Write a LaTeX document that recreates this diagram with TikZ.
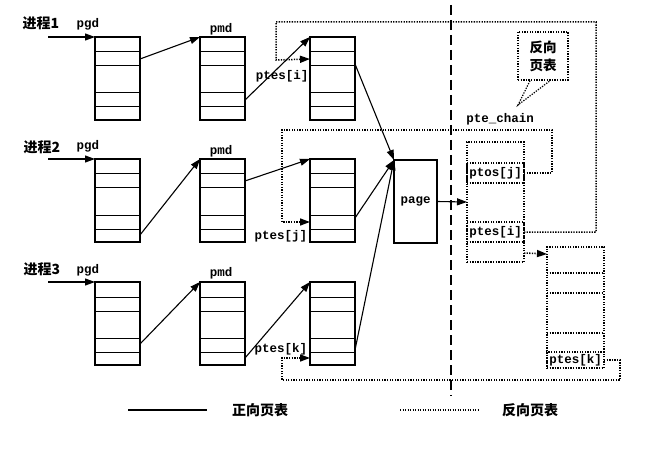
\documentclass[tikz,border=0pt]{standalone}
\usepackage{fontspec}
\setmainfont{Liberation Serif}
\newfontfamily\cjk{Noto Sans CJK SC}
\newfontfamily\code{Liberation Mono}
\usetikzlibrary{arrows.meta,calc}
\newcommand\pgtable[3]{%
  \node[tbl] (#1) at (#2,#3) {};
  \foreach \d in {15,29,56,70}
    \draw[line width=1pt] ([yshift=-\d pt]#1.north west) -- ([yshift=-\d pt]#1.north east);
}
\begin{document}
\begin{tikzpicture}[x=1pt,y=-1pt,
  tbl/.style={draw,line width=1.1pt,minimum width=45pt,minimum height=83pt,anchor=north west,inner sep=0pt,outer sep=0pt},
  dots/.style={line width=1.5pt,dash pattern=on 1.3pt off 1.3pt},
  tip/.style={-{Triangle[length=10pt,width=7pt]}},
  link/.style={line width=1.1pt,tip},
  cjklab/.style={font=\cjk\bfseries\fontsize{14}{16}\selectfont,inner sep=0pt},
  codelab/.style={font=\code\bfseries\fontsize{12.5}{14}\selectfont,inner sep=0pt},
  rbox/.style={draw,dots,minimum width=57pt,anchor=north west,inner sep=0pt,outer sep=0pt},
  rrow/.style={draw,dots,minimum width=57pt,inner sep=0pt,outer sep=0pt,font=\code\bfseries\fontsize{12.5}{14}\selectfont}]
\useasboundingbox (0,0) rectangle (650,449);

% row labels
\node[cjklab] (p1) at (41,23) {进程1};
\node[codelab,anchor=base] (g1) at (88,28) {pgd};
\node[cjklab] (p2) at (42,147) {进程2};
\node[codelab,anchor=base] (g2) at (88,150) {pgd};
\node[cjklab] (p3) at (42,269) {进程3};
\node[codelab,anchor=base] (g3) at (88,273) {pgd};
\node[codelab] (m1) at (221,29) {pmd};
\node[codelab] (m2) at (221,151) {pmd};
\node[codelab] (m3) at (221,273) {pmd};

\coordinate (s1) at (48,37);
\coordinate (s2) at (48,159);
\coordinate (s3) at (48,282);

% tables
\pgtable{pgd1}{95}{37}
\pgtable{pmd1}{200}{37}
\pgtable{pte1}{310}{37}
\pgtable{pgd2}{95}{159}
\pgtable{pmd2}{200}{159}
\pgtable{pte2}{310}{159}
\pgtable{pgd3}{95}{282}
\pgtable{pmd3}{200}{282}
\pgtable{pte3}{310}{282}

\node[draw,line width=1.1pt,minimum width=43pt,minimum height=83pt,anchor=north west,inner sep=0pt,outer sep=0pt,font=\code\bfseries\fontsize{12.5}{14}\selectfont] (page) at (394,160) {page};

% forward links
\draw[link] (s1) -- (pgd1.north west);
\draw[link] (s2) -- (pgd2.north west);
\draw[link] (s3) -- (pgd3.north west);
\draw[link] ([yshift=-22pt]pgd1.north east) -- (pmd1.north west);
\draw[link] ([yshift=-76pt]pgd2.north east) -- (pmd2.north west);
\draw[link] ([yshift=-62pt]pgd3.north east) -- (pmd3.north west);
\draw[link] ([yshift=-63pt]pmd1.north east) -- (pte1.north west);
\draw[link] ([yshift=-22pt]pmd2.north east) -- (pte2.north west);
\draw[link] ([yshift=-76pt]pmd3.north east) -- (pte3.north west);
\draw[link] ([yshift=-27pt]pte1.north east) -- (page.north west);
\draw[link] ([yshift=-59pt]pte2.north east) -- (page.north west);
\draw[link] ([yshift=-68pt]pte3.north east) -- (page.north west);

\node[codelab] (li) at (282,76) {ptes[i]};
\node[codelab] (lj) at (281,236) {ptes[j]};
\node[codelab] (lk) at (281,349) {ptes[k]};

% dashed divider
\coordinate (dv1) at (451,5);
\coordinate (dv2) at (451,396);
\draw[line width=1.4pt,dash pattern=on 10pt off 5pt] (dv1) -- (dv2);

% reverse tables
\node[rbox,minimum height=120pt] (rt1) at (467,142) {};
\node[rrow,minimum height=20pt] (rtj) at (495.5,173) {ptos[j]};
\node[rrow,minimum height=20pt] (rti) at (495.5,232) {ptes[i]};
\node[rbox,minimum height=121pt] (rt2) at (547,247) {};
\foreach \d in {26,46,86}
  \draw[dots] ([yshift=-\d pt]rt2.north west) -- ([yshift=-\d pt]rt2.north east);
\node[rrow,minimum height=16pt] (rtk) at (575.5,360) {ptes[k]};

\node[codelab] (chain) at (500,119) {pte\_chain};

\draw[link] (page.east) -- (rt1.west);

% callout
\node[draw,dots,minimum width=50pt,minimum height=48pt,inner sep=0pt,align=center,font=\cjk\bfseries\fontsize{13.5}{18}\selectfont] (call) at (543,56) {反向\\页表};
\coordinate (tailtip) at (518,105);
\draw[dots,line width=1.2pt] ([xshift=-13pt]call.south) -- (tailtip) -- ([xshift=7pt]call.south);

% reverse links
\coordinate (a1) at (596,22);
\coordinate (b1) at (276,60);
\draw[dots,tip] (rti.east) -| (a1) -| (b1) -- ([yshift=-22pt]pte1.north west);
\coordinate (a2) at (552,130);
\coordinate (b2) at (282,222);
\draw[dots,tip] (rtj.east) -| (a2) -| (b2) -- ([yshift=-63pt]pte2.north west);
\coordinate (a3) at (620,380);
\coordinate (b3) at (282,358);
\draw[dots,tip] (rtk.east) -| (a3) -| (b3) -- ([yshift=-76pt]pte3.north west);
\draw[dots,tip] ([yshift=-11pt]rti.south east) -- ([yshift=-7pt]rt2.north west);

% legend
\coordinate (ls1) at (128,410);
\coordinate (ls2) at (207,410);
\draw[line width=1.1pt] (ls1) -- (ls2);
\node[cjklab] (lg1) at (260,410) {正向页表};
\coordinate (ld1) at (400,410);
\coordinate (ld2) at (478,410);
\draw[line width=1.2pt,dash pattern=on 1.2pt off 1.3pt] (ld1) -- (ld2);
\node[cjklab] (lg2) at (530,410) {反向页表};
\end{tikzpicture}
\end{document}
